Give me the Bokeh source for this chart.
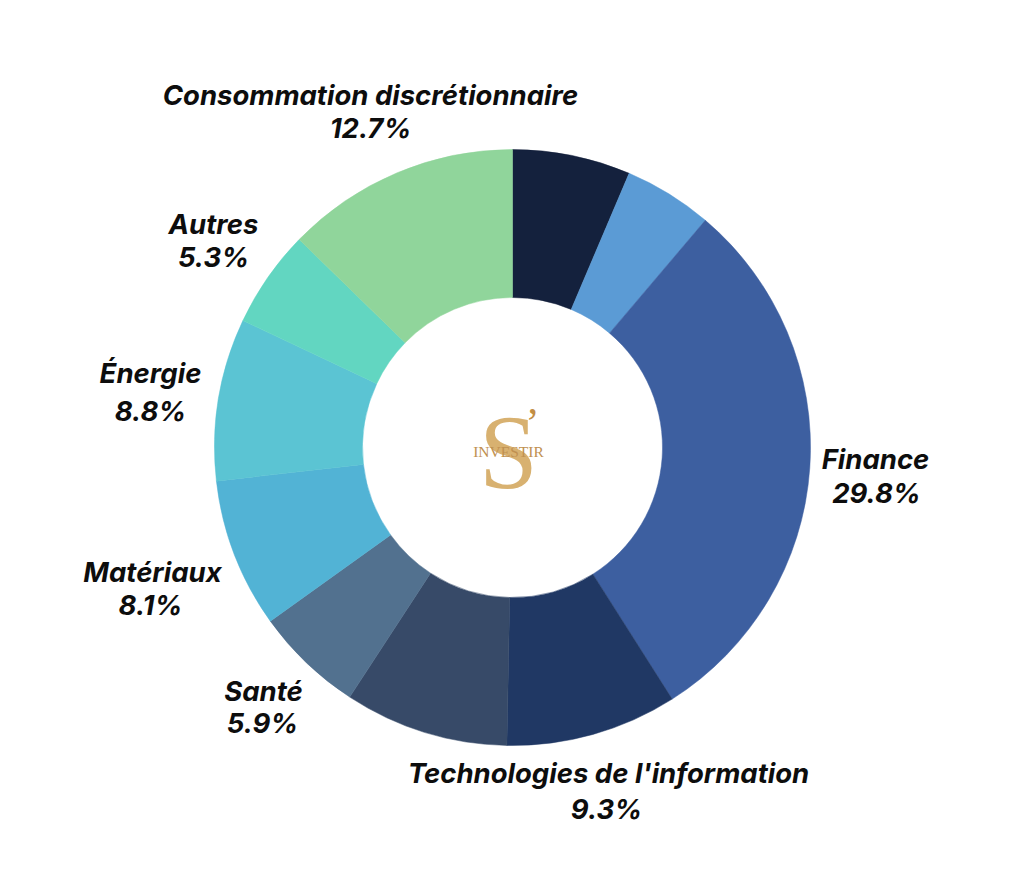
import math
from bokeh.plotting import figure
from bokeh.models import ColumnDataSource, Range1d
from bokeh.core.properties import value
from bokeh.embed import file_html
from bokeh.resources import INLINE

# ---- data ----
sectors = ["", "", "Finance", "Technologies de l'information", "", "Santé",
           "Matériaux", "Énergie", "Autres", "Consommation discrétionnaire"]
shares = [6.4, 4.8, 29.8, 9.3, 8.9, 5.9, 8.1, 8.8, 5.3, 12.7]
colors = ["#14213d", "#5b9bd5", "#3d5fa0", "#203864", "#374a68", "#52718f",
          "#52b3d5", "#5bc4d3", "#62d6c1", "#90d59b"]

# ---- layout (page pixels) ----
W, H = 1008, 859
CX, CY = 512, 447          # donut centre in page px
R_OUT, R_IN = 298, 150
label_pos = {
    "Finance": (875, 458),
    "Technologies de l'information": (608, 772),
    "Santé": (263, 690),
    "Matériaux": (152, 571),
    "Énergie": (150, 372),
    "Autres": (213, 223),
    "Consommation discrétionnaire": (370, 94),
}
pct_pos = {
    "Finance": (876, 492),
    "Technologies de l'information": (606, 808),
    "Santé": (262, 722),
    "Matériaux": (150, 604),
    "Énergie": (150, 410),
    "Autres": (213, 256),
    "Consommation discrétionnaire": (370, 127),
}

def px(a, b):
    return a - CX, CY - b

p = figure(width=W, height=H, output_backend="svg", toolbar_location=None,
           x_range=Range1d(-CX, W - CX), y_range=Range1d(-(H - CY), CY),
           min_border=0, match_aspect=False)
p.axis.visible = False
p.grid.visible = False
p.outline_line_color = None
p.background_fill_color = "white"
p.border_fill_color = "white"

total = sum(shares)
starts, ends = [], []
cum = 0.0
for s in shares:
    starts.append(math.pi / 2 - 2 * math.pi * cum / total)
    cum += s
    ends.append(math.pi / 2 - 2 * math.pi * cum / total)

src = ColumnDataSource(dict(x=[0] * len(shares), y=[0] * len(shares),
                            start=starts, end=ends, color=colors))
p.annular_wedge(x="x", y="y", inner_radius=R_IN, outer_radius=R_OUT,
                start_angle="start", end_angle="end", direction="clock",
                fill_color="color", line_color="color", line_width=0.5,
                source=src)

lx, ly, lt = [], [], []
for name, s in zip(sectors, shares):
    if not name:
        continue
    a, b = px(*label_pos[name])
    lx.append(a); ly.append(b); lt.append(name)
    a, b = px(*pct_pos[name])
    lx.append(a); ly.append(b); lt.append(f"{s}%")

p.text(x=lx, y=ly, text=lt, text_font=value("Inter"),
       text_font_style="bold italic", text_font_size="27.5px",
       text_align="center", text_baseline="middle", text_color="#0d0d0d")

# centre logo
sx, sy = px(508, 452)
p.text(x=[sx], y=[sy], text=["S"], text_font=value("Liberation Serif"),
       text_font_size="106px", text_align="center", text_baseline="middle",
       text_color="#d4a860", text_alpha=0.9)
ax_, ay_ = px(532, 422)
p.text(x=[ax_], y=[ay_], text=["’"], text_font=value("Liberation Serif"),
       text_font_size="42px", text_align="center", text_baseline="middle",
       text_color="#c28e45")
ix, iy = px(508, 451)
p.text(x=[ix], y=[iy], text=["INVESTIR"], text_font=value("Liberation Serif"),
       text_font_size="15.5px", text_align="center", text_baseline="middle",
       text_color="#c09050")

open("out.html", "w").write(file_html(p, INLINE))
